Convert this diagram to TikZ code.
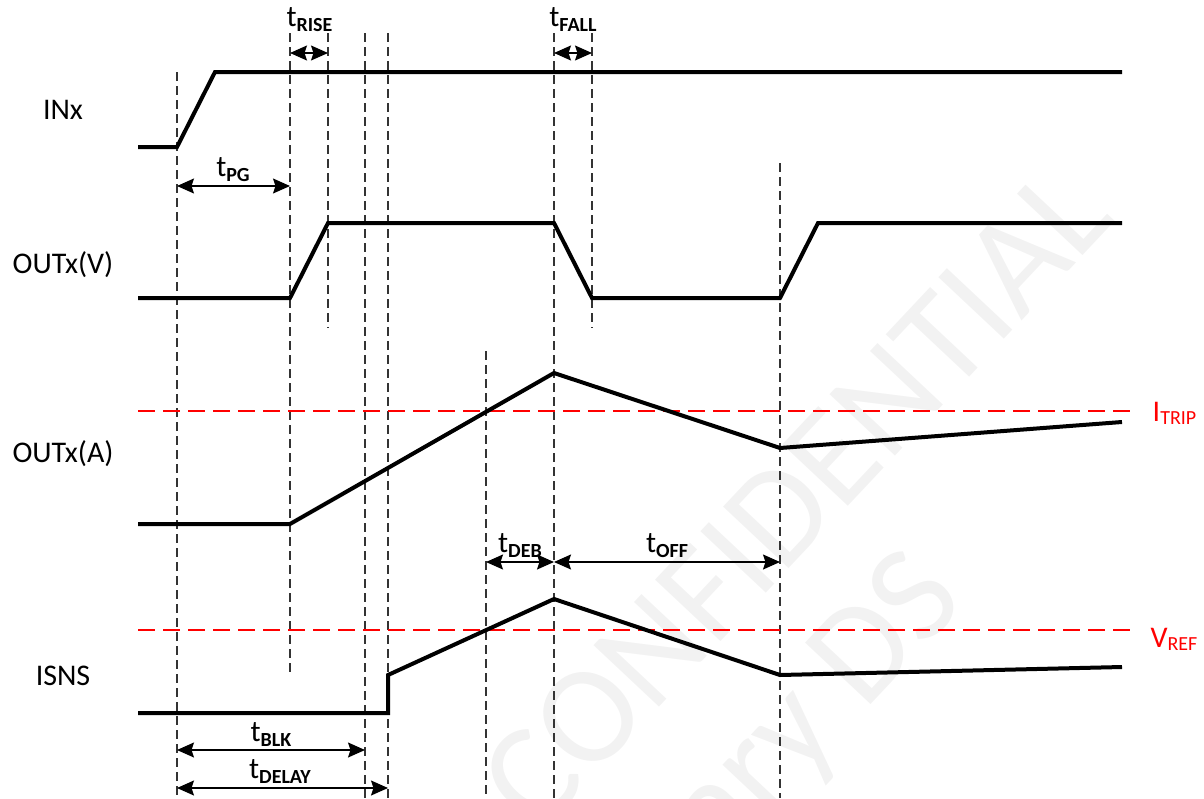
\documentclass[tikz,border=0pt]{standalone}
\usepackage{fontspec}
\setmainfont{Carlito}
\usetikzlibrary{arrows.meta}
\newcommand{\tsublbl}[1]{t\raisebox{-5pt}{\fontsize{20}{20}\selectfont\bfseries #1}}
\newcommand{\refsub}[2]{#1\raisebox{-3pt}{\fontsize{20}{20}\selectfont #2}}
\begin{document}
\begin{tikzpicture}[x=1pt,y=-1pt,
  sig/.style={line width=4pt, line join=miter, black},
  vguide/.style={line width=1.3pt, black!80, dash pattern=on 9pt off 5pt},
  thr/.style={line width=2.6pt, red, dash pattern=on 17pt off 8pt},
  dimarrow/.style={line width=1.5pt, black,
     {Stealth[length=17pt,width=15pt,inset=2.5pt]}-{Stealth[length=17pt,width=15pt,inset=2.5pt]}},
  siglbl/.style={font=\fontsize{30}{30}\selectfont, inner sep=0pt, anchor=base},
  tlbl/.style={font=\fontsize{30}{30}\selectfont, inner sep=0pt, anchor=base},
  reflbl/.style={font=\fontsize{30}{30}\selectfont, inner sep=0pt, text=red},
  wmark/.style={text=black!5, font=\fontsize{140}{140}\selectfont, rotate=46.8, inner sep=0pt}]
\useasboundingbox (0,0) rectangle (1204,798);

% watermark
\node[wmark] (wm1) at (795,497) {CONFIDENTIAL};
\node[wmark] (wm2) at (655,880) {Preliminary DS};

% vertical guide coordinates
\coordinate (g1t) at (177,72);  \coordinate (g1b) at (177,798);
\coordinate (g2t) at (290,33);  \coordinate (g2b) at (290,675);
\coordinate (g3t) at (328,33);  \coordinate (g3b) at (328,328);
\coordinate (g4t) at (365,33);  \coordinate (g4b) at (365,798);
\coordinate (g5t) at (388,33);  \coordinate (g5b) at (388,798);
\coordinate (g6t) at (554,33);  \coordinate (g6b) at (554,798);
\coordinate (g7t) at (592,33);  \coordinate (g7b) at (592,328);
\coordinate (g8t) at (486,351); \coordinate (g8b) at (486,798);
\coordinate (g9t) at (780,163); \coordinate (g9b) at (780,798);
\foreach \g in {1,...,9} { \draw[vguide] (g\g t) -- (g\g b); }

% thresholds
\coordinate (itripL) at (138,411); \coordinate (itripR) at (1136,411);
\coordinate (vrefL) at (138,630);  \coordinate (vrefR) at (1136,630);
\draw[thr] (itripL) -- (itripR);
\draw[thr] (vrefL) -- (vrefR);

% signals
\draw[sig] (138,147) -- (177,147) -- (215,72) -- (1122,72);
\draw[sig] (138,298) -- (290,298) -- (328,223) -- (554,223) -- (592,298)
           -- (780,298) -- (818,223) -- (1122,223);
\draw[sig] (138,524) -- (290,524) -- (554,373) -- (780,448) -- (1122,422);
\draw[sig] (138,713) -- (388,713) -- (388,675) -- (554,599) -- (780,675) -- (1122,667);

% dimension arrows
\coordinate (riseA) at (290,53);  \coordinate (riseB) at (328,53);
\coordinate (fallA) at (554,53);  \coordinate (fallB) at (592,53);
\coordinate (pgA) at (177,186);   \coordinate (pgB) at (290,186);
\coordinate (blkA) at (177,750);  \coordinate (blkB) at (365,750);
\coordinate (dlyA) at (177,788);  \coordinate (dlyB) at (388,788);
\coordinate (debA) at (486,562);  \coordinate (debB) at (554,562);
\coordinate (offA) at (554,562);  \coordinate (offB) at (780,562);
\draw[dimarrow] (riseA) -- (riseB);
\draw[dimarrow] (fallA) -- (fallB);
\draw[dimarrow] (pgA) -- (pgB);
\draw[dimarrow] (blkA) -- (blkB);
\draw[dimarrow] (dlyA) -- (dlyB);
\draw[dimarrow] (debA) -- (debB);
\draw[dimarrow] (offA) -- (offB);

% timing labels
\node[tlbl] (lrise) at (309.5,26.7) {\tsublbl{RISE}};
\node[tlbl] (lfall) at (573,26.7) {\tsublbl{FALL}};
\node[tlbl] (lpg) at (233,176.7) {\tsublbl{PG}};
\node[tlbl] (lblk) at (271,741.7) {\tsublbl{BLK}};
\node[tlbl] (ldly) at (280,778) {\tsublbl{DELAY}};
\node[tlbl] (ldeb) at (520,552.7) {\tsublbl{DEB}};
\node[tlbl] (loff) at (667,552.7) {\tsublbl{OFF}};

% signal names
\node[siglbl] (nin) at (63,119) {INx};
\node[siglbl] (noutv) at (63,273) {OUTx(V)};
\node[siglbl] (nouta) at (63,462) {OUTx(A)};
\node[siglbl] (nisns) at (63,685) {ISNS};

% threshold labels
\node[reflbl] (litrip) at (1174.5,413.5) {\refsub{I}{TRIP}};
\node[reflbl] (lvref) at (1174,639.5) {\refsub{V}{REF}};
\end{tikzpicture}
\end{document}
